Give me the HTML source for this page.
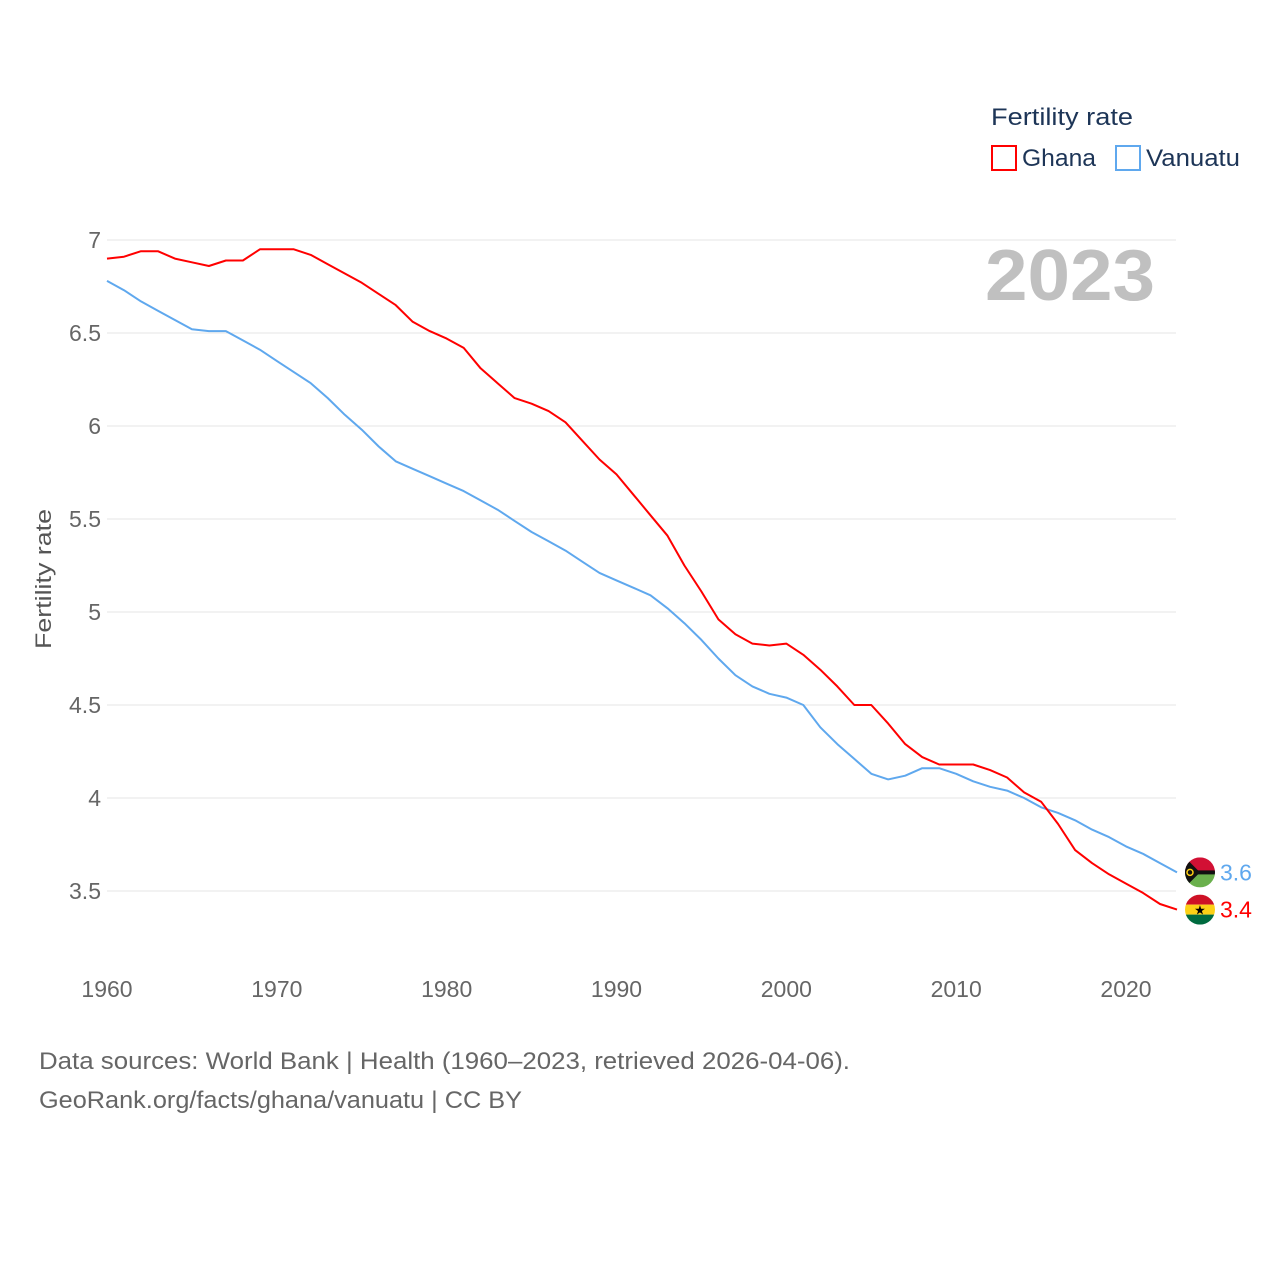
<!DOCTYPE html>
<html><head><meta charset="utf-8"><style>
html,body{margin:0;padding:0;background:#fff;}
body{width:1280px;height:1280px;overflow:hidden;font-family:"Liberation Sans",sans-serif;}
</style></head><body>
<svg id="chart" width="1280" height="1280" viewBox="0 0 1280 1280" xmlns="http://www.w3.org/2000/svg" font-family="Liberation Sans, sans-serif">
<g id="grid"></g>
<g id="yticks"></g>
<g id="xticks"></g>
<text transform="translate(51,579) rotate(-90)" text-anchor="middle" font-size="22" fill="#555" textLength="140" lengthAdjust="spacingAndGlyphs">Fertility rate</text>
<text x="985" y="300" font-size="72" font-weight="bold" fill="#c0c0c0" textLength="170" lengthAdjust="spacingAndGlyphs">2023</text>
<g id="series"></g>
<g>
<text x="991" y="125" font-size="24" fill="#1d3557" textLength="142" lengthAdjust="spacingAndGlyphs">Fertility rate</text>
<rect x="992" y="146" width="24" height="24" fill="none" stroke="#ff0000" stroke-width="2"/>
<text x="1022" y="166" font-size="24" fill="#1d3557" textLength="74" lengthAdjust="spacingAndGlyphs">Ghana</text>
<rect x="1116" y="146" width="24" height="24" fill="none" stroke="#5fa8ee" stroke-width="2"/>
<text x="1146" y="166" font-size="24" fill="#1d3557" textLength="94" lengthAdjust="spacingAndGlyphs">Vanuatu</text>
</g>
<text x="39" y="1069" font-size="24" fill="#666" textLength="811" lengthAdjust="spacingAndGlyphs">Data sources: World Bank | Health (1960–2023, retrieved 2026-04-06).</text>
<text x="39" y="1108" font-size="24" fill="#666" textLength="483" lengthAdjust="spacingAndGlyphs">GeoRank.org/facts/ghana/vanuatu | CC BY</text>
</svg>
<script>
const years = [];
for (let y = 1960; y <= 2023; y++) years.push(y);
const ghana = [6.90,6.91,6.94,6.94,6.90,6.88,6.86,6.89,6.89,6.95,6.95,6.95,6.92,6.87,6.82,6.77,6.71,6.65,6.56,6.51,6.47,6.42,6.31,6.23,6.15,6.12,6.08,6.02,5.92,5.82,5.74,5.63,5.52,5.41,5.25,5.11,4.96,4.88,4.83,4.82,4.83,4.77,4.69,4.60,4.50,4.50,4.40,4.29,4.22,4.18,4.18,4.18,4.15,4.11,4.03,3.98,3.86,3.72,3.65,3.59,3.54,3.49,3.43,3.40];
const vanuatu = [6.78,6.73,6.67,6.62,6.57,6.52,6.51,6.51,6.46,6.41,6.35,6.29,6.23,6.15,6.06,5.98,5.89,5.81,5.77,5.73,5.69,5.65,5.60,5.55,5.49,5.43,5.38,5.33,5.27,5.21,5.17,5.13,5.09,5.02,4.94,4.85,4.75,4.66,4.60,4.56,4.54,4.50,4.38,4.29,4.21,4.13,4.10,4.12,4.16,4.16,4.13,4.09,4.06,4.04,4.00,3.95,3.92,3.88,3.83,3.79,3.74,3.70,3.65,3.60];
const yTicks = [3.5,4,4.5,5,5.5,6,6.5,7];
const yTickLabels = ["3.5","4","4.5","5","5.5","6","6.5","7"];
const xTicks = [1960,1970,1980,1990,2000,2010,2020];

const NS = "http://www.w3.org/2000/svg";
function xs(yr){ return 107 + (yr-1960)*(1019/60); }
function ys(v){ return 240 + (7-v)*186; }
function mk(tag, attrs, parent){
  const e = document.createElementNS(NS, tag);
  for (const k in attrs) e.setAttribute(k, attrs[k]);
  parent.appendChild(e); return e;
}
const grid = document.getElementById('grid');
const yt = document.getElementById('yticks');
yTicks.forEach((v,i)=>{
  const l = mk('line',{x1:107,x2:1176,y1:ys(v),y2:ys(v),stroke:'#e6e6e6','stroke-width':1},grid);
  
  
  const t = mk('text',{x:101,y:ys(v)+8,'text-anchor':'end','font-size':23,fill:'#666'},yt);
  t.textContent = yTickLabels[i];
  
  
});
const xt = document.getElementById('xticks');
xTicks.forEach(v=>{
  const t = mk('text',{x:xs(v),y:997,'text-anchor':'middle','font-size':23,fill:'#666'},xt);
  t.textContent = v;
  
  
});
const sg = document.getElementById('series');
function line(data, color, name){
  const d = data.map((v,i)=>(i?'L':'M')+xs(years[i]).toFixed(1)+','+ys(v).toFixed(1)).join(' ');
  const p = mk('path',{d:d,fill:'none',stroke:color,'stroke-width':2,'stroke-linejoin':'round'},sg);
  
  
}
line(vanuatu,'#5fa8ee','line-vanuatu');
line(ghana,'#ff0000','line-ghana');

const lastI = years.length-1;
const fx = 1200;
let vy = ys(vanuatu[lastI]);
const vf = mk('g',{},sg);


const cv = mk('clipPath',{id:'cv'},vf);
mk('circle',{cx:fx,cy:vy,r:15},cv);
const vg = mk('g',{'clip-path':'url(#cv)'},vf);
mk('rect',{x:fx-15,y:vy-15,width:30,height:15,fill:'#d21034'},vg);
mk('rect',{x:fx-15,y:vy,width:30,height:15,fill:'#6ab04c'},vg);
mk('rect',{x:fx-15,y:vy-2,width:30,height:4,fill:'#111'},vg);
mk('polygon',{points:`${fx-15},${vy-15} ${fx},${vy} ${fx-15},${vy+15}`,fill:'#111'},vg);
mk('circle',{cx:fx-10,cy:vy,r:3,fill:'none',stroke:'#fdce12','stroke-width':1.5},vg);
const vt = mk('text',{x:1220,y:vy+8,'font-size':23,fill:'#5fa8ee'},sg);
vt.textContent = vanuatu[lastI].toFixed(1);


let gy = ys(ghana[lastI]);
const gf = mk('g',{},sg);


const cg = mk('clipPath',{id:'cg'},gf);
mk('circle',{cx:fx,cy:gy,r:15},cg);
const gg = mk('g',{'clip-path':'url(#cg)'},gf);
mk('rect',{x:fx-15,y:gy-15,width:30,height:10,fill:'#ce1126'},gg);
mk('rect',{x:fx-15,y:gy-5,width:30,height:10,fill:'#fcd116'},gg);
mk('rect',{x:fx-15,y:gy+5,width:30,height:10,fill:'#006b3f'},gg);
const st = mk('text',{x:fx,y:gy+5,'text-anchor':'middle','font-size':13,fill:'#000'},gf);
st.textContent='★';
const gt = mk('text',{x:1220,y:gy+8,'font-size':23,fill:'#ff0000'},sg);
gt.textContent = ghana[lastI].toFixed(1);


</script>
</body></html>
